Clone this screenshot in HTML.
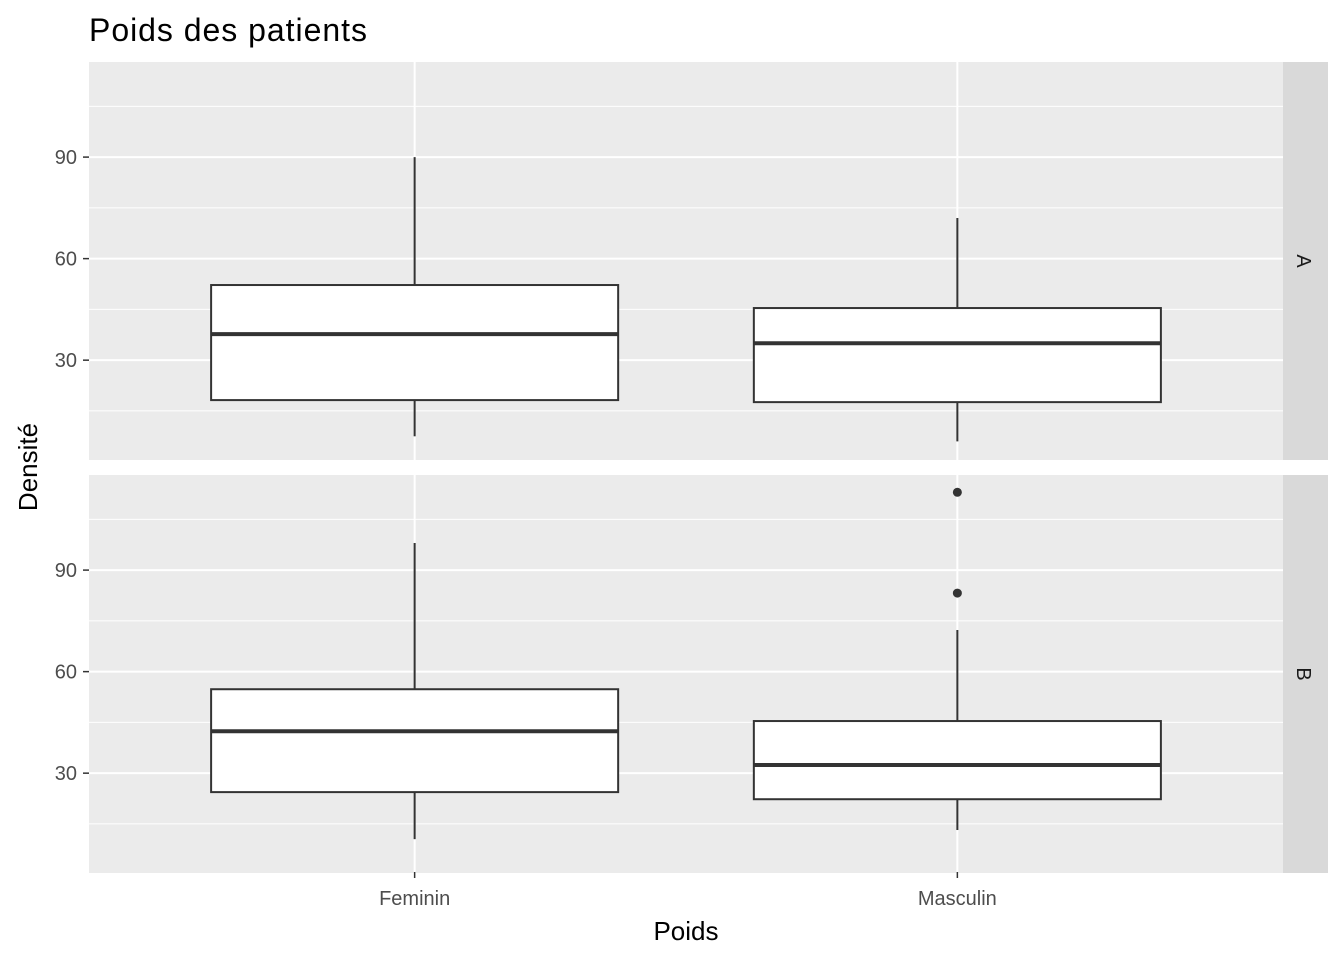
<!DOCTYPE html>
<html><head><meta charset="utf-8"><style>
body{margin:0;background:#fff;font-family:"Liberation Sans",Arial,sans-serif}
</style></head><body>
<svg id="chart" width="1344" height="960" xmlns="http://www.w3.org/2000/svg">
<text x="89" y="41" font-size="32" fill="#000" textLength="278">Poids des patients</text>
<text x="686" y="940" font-size="26" text-anchor="middle" fill="#000">Poids</text>
<text transform="translate(37,467) rotate(-90)" font-size="26" text-anchor="middle" fill="#000">Densité</text>
<g id="plot"></g>
</svg>
<script>
const categories=["Feminin","Masculin"];
const facets=["A","B"];
const yTicks=[30,60,90];
const minorTicks=[15,45,75,105];
const lowWhisker=[[7.5,6],[10.5,13.2]];
const q1=[[18.2,17.6],[24.4,22.3]];
const medians=[[37.7,35],[42.4,32.4]];
const q3=[[52.2,45.4],[54.8,45.4]];
const highWhisker=[[90,72],[98,72.3]];
const outliers=[[[],[]],[[],[113,83.2]]];
const NS="http://www.w3.org/2000/svg";
const g=document.getElementById('plot');
const X0=89,X1=1283,yMin=0.5,yMax=118.1;
const panelTops=[62,475],PH=398;
const step=(X1-X0)/(categories.length-1+1.2);
function xs(i){return X0+step*(0.6+i);}
function ys(v,p){return panelTops[p]+PH*(yMax-v)/(yMax-yMin);}
function el(t,a,name,parent){const e=document.createElementNS(NS,t);for(const k in a)e.setAttribute(k,a[k]);


(parent||g).appendChild(e);return e;}
const bw=step*0.75;
facets.forEach((f,p)=>{
 const top=panelTops[p];
 el('rect',{x:X0,y:top,width:X1-X0,height:PH,fill:'#ebebeb'},'panel-background-'+f);
 minorTicks.forEach(v=>el('line',{x1:X0,x2:X1,y1:ys(v,p),y2:ys(v,p),stroke:'#fff','stroke-width':1},'minor-gridline'));
 yTicks.forEach(v=>{const y=ys(v,p);
  el('line',{x1:X0,x2:X1,y1:y,y2:y,stroke:'#fff','stroke-width':2},'major-gridline');
  el('line',{x1:X0-6,x2:X0,y1:y,y2:y,stroke:'#333','stroke-width':1.5},'y-tick');
  const t=el('text',{x:X0-12,y:y+7,'font-size':20,'text-anchor':'end',fill:'#4d4d4d'},'y-tick-label');t.textContent=v;});
 categories.forEach((c,i)=>{const x=xs(i);
  el('line',{x1:x,x2:x,y1:top,y2:top+PH,stroke:'#fff','stroke-width':2},'x-gridline');
 });
 el('rect',{x:X1,y:top,width:45,height:PH,fill:'#d9d9d9'},'facet-strip-'+f);
 const st=el('text',{transform:`translate(${X1+14},${top+PH/2}) rotate(90)`,'font-size':20,'text-anchor':'middle',fill:'#1a1a1a'},'facet-label-'+f);st.textContent=f;
 categories.forEach((c,i)=>{const x=xs(i);
  el('line',{x1:x,x2:x,y1:ys(highWhisker[p][i],p),y2:ys(q3[p][i],p),stroke:'#333','stroke-width':2},'upper-whisker');
  el('line',{x1:x,x2:x,y1:ys(q1[p][i],p),y2:ys(lowWhisker[p][i],p),stroke:'#333','stroke-width':2},'lower-whisker');
  el('rect',{x:x-bw/2,y:ys(q3[p][i],p),width:bw,height:ys(q1[p][i],p)-ys(q3[p][i],p),fill:'#fff',stroke:'#333','stroke-width':2},'box-'+f+'-'+c.toLowerCase());
  el('line',{x1:x-bw/2,x2:x+bw/2,y1:ys(medians[p][i],p),y2:ys(medians[p][i],p),stroke:'#333','stroke-width':4},'median-line');
  outliers[p][i].forEach(v=>el('circle',{cx:x,cy:ys(v,p),r:4.5,fill:'#333'},'outlier-point'));
 });
});
categories.forEach((c,i)=>{const x=xs(i);
 el('line',{x1:x,x2:x,y1:872,y2:878,stroke:'#333','stroke-width':1.5},'x-tick');
 const t=el('text',{x:x,y:905,'font-size':20,'text-anchor':'middle',fill:'#4d4d4d'},'x-tick-label');t.textContent=c;});
</script>
</body></html>
